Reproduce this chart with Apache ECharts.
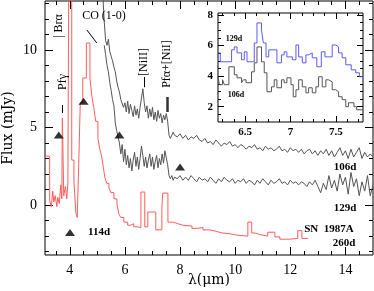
<!DOCTYPE html>
<html><head><meta charset="utf-8">
<script src="https://cdn.jsdelivr.net/npm/echarts@6/dist/echarts.min.js"></script>
<style>html,body{margin:0;padding:0;background:#fff}#c{width:374px;height:291px}</style>
</head><body><div id="c"></div>
<script>
// ---------- data ----------
// SN 1987A, 260d spectrum (step spectrum, red)
const lam260 = [3.10,3.27,3.33,3.38,3.42,3.47,3.53,3.56,3.62,3.67,3.71,3.73,3.78,3.84,3.89,3.93,3.96,4.07,4.15,4.22,4.27,4.33,4.38,4.47,4.60,4.73,4.80,4.87,4.94,5.02,5.09,5.16,5.22,5.27,5.34,5.42,5.49,5.60,5.71,5.78,5.85,5.96,6.10,6.21,6.32,6.43,6.58,6.72,6.83,7.12,7.34,7.37,7.56,7.74,7.92,8.10,8.43,8.64,8.83,9.08,9.33,9.52,9.80,10.10,10.46,10.60,10.71,10.89,11.18,11.44,11.62,11.98,12.27,12.42,12.64];
const flux260 = [3.15,0.3,-0.1,0.9,0.2,0.6,-0.1,0.5,0.1,1.3,0.4,5.6,0.6,1.2,0.4,1.4,14,2.9,1.5,-0.5,-0.8,3.1,6.6,8.2,10.45,8.2,7.0,6.3,5.4,4.3,3.6,3.1,2.4,1.8,1.4,1.1,0.8,0.4,0.1,-0.6,-0.8,-1.1,-1.3,-1.2,-1.4,-1.45,0.84,-1.4,-0.45,-1.6,-0.2,0.77,-1.1,-1.2,-1.3,-1.35,-1.5,-1.45,-1.6,-1.7,-1.8,-1.85,-1.95,-2.0,-1.1,-1.8,-1.9,-2.0,-1.75,-2.05,-2.2,-2.15,-1.65,-2.15,-2.15];

// 106d and 129d spectra (shared wavelength grid)
const lamIR = [5.20,5.25,5.30,5.35,5.40,5.45,5.50,5.55,5.60,5.65,5.70,5.75,5.80,5.85,5.90,5.95,6.00,6.05,6.10,6.15,6.20,6.25,6.30,6.35,6.40,6.45,6.50,6.55,6.60,6.65,6.70,6.75,6.80,6.85,6.90,6.95,7.00,7.05,7.10,7.15,7.20,7.25,7.30,7.35,7.40,7.45,7.50,7.55,7.60,7.65,7.70,7.75,7.80,
 7.9,8.0,8.1,8.2,8.3,8.4,8.5,8.6,8.7,8.8,8.9,9.0,9.1,9.2,9.3,9.4,9.5,9.6,9.7,9.8,9.9,10.0,10.1,10.2,10.3,10.4,10.5,10.6,10.7,10.8,10.9,11.0,11.1,11.2,11.3,11.4,11.5,11.6,11.7,11.8,11.9,12.0,12.1,12.2,12.3,12.4,12.5,12.6,12.7,12.8,12.9,13.0,13.1,13.2,13.3,13.4,13.5,13.6,13.7,13.8,13.9,14.0,14.1,14.2,14.3,14.4,14.5,14.6,14.7,14.8,14.9,15.0];
const flux106 = [13.5,11.8,10.6,10.3,10.7,9.9,9.6,9.3,8.9,8.6,8.0,7.6,7.3,6.8,6.9,6.3,6.6,6.0,6.7,5.9,6.5,6.1,5.7,6.4,5.8,6.2,5.6,6.3,6.9,7.5,6.6,6.0,6.4,5.6,6.2,5.7,6.3,5.5,6.0,5.4,6.1,5.6,5.9,5.3,5.8,5.5,5.9,5.4,4.5,4.3,4.4,4.7,4.5,
 4.4,4.6,4.3,4.5,4.2,4.4,4.3,4.5,4.2,4.1,
 4.3,4.0,4.1,3.9,4.2,4.0,3.8,4.0,3.9,4.1,
 3.8,3.9,3.7,3.9,3.8,3.6,3.8,3.7,3.9,3.6,
 3.7,3.5,3.8,3.6,3.7,3.5,3.6,3.8,3.5,3.6,
 3.4,3.7,3.5,3.6,3.4,3.6,3.3,3.5,3.6,3.3,
 3.5,3.2,3.5,3.3,3.6,3.2,3.5,3.1,3.4,3.7,
 3.2,3.5,3.0,3.6,3.1,3.4,3.7,3.0,3.4,3.1,
 3.3,3.1];
const flux129 = [null,10.3,9.7,9.0,8.6,7.9,7.4,6.8,6.4,5.3,4.8,4.4,4.0,3.3,3.9,2.8,3.6,2.6,3.2,2.4,3.0,2.2,2.9,3.4,2.5,3.1,2.3,3.0,3.8,3.2,2.5,3.1,2.4,2.9,3.3,2.5,3.1,2.3,2.8,3.2,2.4,3.0,2.6,3.3,2.7,3.5,3.4,2.6,1.9,1.7,1.9,1.6,1.8,
 1.7,1.9,1.6,1.8,1.6,1.9,1.7,1.5,1.8,1.6,
 1.7,1.5,1.8,1.6,1.4,1.7,1.5,1.8,1.6,1.5,
 1.7,1.4,1.6,1.5,1.7,1.4,1.6,1.5,1.3,1.6,
 1.4,1.7,1.5,1.3,1.6,1.4,1.5,1.7,1.4,1.5,
 1.3,1.6,1.4,1.5,1.3,1.5,1.4,1.2,1.5,1.3,
 1.6,1.2,0.8,1.4,1.0,1.9,1.1,1.6,0.9,2.0,
 1.3,1.8,0.7,2.1,1.2,1.7,0.6,1.5,0.9,1.9,
 0.6,1.3];

// 114d photometry (triangles)
const lam114 = [3.6,4.5,5.8,8.0];
const flux114 = [4.52,6.69,4.52,2.45];

// inset (6.2-7.8 micron) step spectra
const lamIn129 = [6.20,6.225,6.35,6.38,6.41,6.46,6.49,6.52,6.60,6.63,6.68,6.70,6.73,6.76,6.85,6.90,6.93,6.96,7.02,7.06,7.09,7.13,7.17,7.20,7.24,7.29,7.34,7.38,7.46,7.50,7.53,7.57,7.61,7.67,7.72,7.76,7.80];
const fluxIn129 = [5.52,4.94,5.72,5.91,5.52,5.07,5.59,4.94,6.17,7.48,7.02,6.17,5.26,5.72,4.87,5.39,5.59,5.26,5.07,6.04,5.26,4.87,5.39,5.52,5.20,4.61,5.59,5.26,6.04,5.91,5.52,5.20,4.74,4.41,4.22,3.96,3.96];
const lamIn106 = [6.20,6.215,6.25,6.27,6.32,6.38,6.41,6.46,6.48,6.51,6.57,6.60,6.63,6.68,6.71,6.74,6.79,6.82,6.85,6.90,6.93,6.96,7.005,7.03,7.06,7.09,7.13,7.17,7.20,7.24,7.28,7.31,7.35,7.39,7.42,7.46,7.50,7.53,7.57,7.61,7.64,7.70,7.73,7.80];
const fluxIn106 = [3.96,3.44,3.76,3.44,4.61,4.09,3.89,3.57,3.76,3.57,4.28,4.87,5.91,4.94,4.22,2.98,3.30,3.76,3.24,3.76,3.57,3.89,3.44,2.65,3.11,3.76,3.30,2.91,3.24,2.91,3.30,3.96,3.30,3.76,3.63,3.11,2.98,2.65,2.46,2.00,2.26,2.00,1.80,1.80];

// tick values
const xMajor = [4,6,8,10,12,14];
const xMinor = [3.5,4.5,5,5.5,6.5,7,7.5,8.5,9,9.5,10.5,11,11.5,12.5,13,13.5,14.5];
const yMajor = [0,5,10];
const yMinor = [-3,-2,-1,1,2,3,4,6,7,8,9,11,12,13];
const inXMajor = [6.5,7,7.5];
const inXMinor = [6.25,6.375,6.625,6.75,6.875,7.125,7.25,7.375,7.625,7.75];
const inYMajor = [2,4,6,8];
const inYMinor = [1.5,2.5,3,3.5,4.5,5,5.5,6.5,7,7.5];

// ---------- chart ----------
const zip = (a, b) => a.map((v, i) => [v, b[i]]);
const SERIF = '"Liberation Serif", "Times New Roman", serif';
const DSERIF = '"DejaVu Serif", serif';

function mkAxis(gi, pos, min, max, vals, len, label, extra) {
  return Object.assign({
    type: 'value', gridIndex: gi, position: pos, min: min, max: max,
    axisLine: { show: false, onZero: false }, splitLine: { show: false },
    axisTick: { show: true, inside: true, length: len, customValues: vals, lineStyle: { color: '#000', width: 1 } },
    axisLabel: label ? Object.assign({ show: true, customValues: vals, color: '#000' }, label) : { show: false }
  }, extra || {});
}
const XMIN = 3.1, XMAX = 15, YMIN = -3.22, YMAX = 13.16;
const IXMIN = 6.2, IXMAX = 7.8, IYMIN = 1.0, IYMAX = 8.13;
const mainLbl = { fontFamily: SERIF, fontSize: 14, margin: 8 };
const inLbl = { fontFamily: SERIF, fontSize: 11, fontWeight: 'bold', margin: 5 };

const xAxes = [
  mkAxis(0, 'bottom', XMIN, XMAX, xMajor, 8, mainLbl, {
    name: 'λ(μm)', nameLocation: 'middle', nameGap: 25, nameMoveOverlap: false,
    nameTextStyle: { fontFamily: DSERIF, fontSize: 14, color: '#000', verticalAlign: 'middle' }
  }),
  mkAxis(0, 'bottom', XMIN, XMAX, xMinor, 4, null),
  mkAxis(0, 'top', XMIN, XMAX, xMajor, 8, null),
  mkAxis(0, 'top', XMIN, XMAX, xMinor, 4, null),
  mkAxis(1, 'bottom', IXMIN, IXMAX, inXMajor, 6, inLbl),
  mkAxis(1, 'bottom', IXMIN, IXMAX, inXMinor, 3, null),
  mkAxis(1, 'top', IXMIN, IXMAX, inXMajor, 6, null),
  mkAxis(1, 'top', IXMIN, IXMAX, inXMinor, 3, null)
];
const yAxes = [
  mkAxis(0, 'left', YMIN, YMAX, yMajor, 8, mainLbl, {
    name: 'Flux (mJy)', nameLocation: 'middle', nameGap: 37, nameMoveOverlap: false,
    nameTextStyle: { fontFamily: DSERIF, fontSize: 14, color: '#000', verticalAlign: 'middle' }
  }),
  mkAxis(0, 'left', YMIN, YMAX, yMinor, 4, null),
  mkAxis(0, 'right', YMIN, YMAX, yMajor, 8, null),
  mkAxis(0, 'right', YMIN, YMAX, yMinor, 4, null),
  mkAxis(1, 'left', IYMIN, IYMAX, inYMajor, 6, inLbl),
  mkAxis(1, 'left', IYMIN, IYMAX, inYMinor, 3, null),
  mkAxis(1, 'right', IYMIN, IYMAX, inYMajor, 6, null),
  mkAxis(1, 'right', IYMIN, IYMAX, inYMinor, 3, null)
];

function txt(s, x, y, size, bold, rot) {
  return {
    type: 'text', x: x, y: y, rotation: rot ? Math.PI / 2 : 0, z: 100, silent: true,
    style: { text: s, fill: '#000', font: (bold ? 'bold ' : '') + size + 'px ' + SERIF, textAlign: 'center', textVerticalAlign: 'middle' }
  };
}

const option = {
  animation: false,
  backgroundColor: '#fff',
  grid: [
    { left: 45, top: 1, width: 328, height: 254, show: true, borderColor: '#000', borderWidth: 1, backgroundColor: 'transparent', containLabel: false, outerBoundsMode: 'none' },
    { left: 218, top: 13, width: 145, height: 109, show: true, borderColor: '#000', borderWidth: 1, backgroundColor: '#fff', containLabel: false, outerBoundsMode: 'none' }
  ],
  xAxis: xAxes,
  yAxis: yAxes,
  legend: {
    data: [{ name: '114d', icon: 'triangle' }],
    left: 60, top: 222, itemWidth: 10, itemHeight: 7, selectedMode: false,
    textStyle: { fontFamily: SERIF, fontWeight: 'bold', fontSize: 11, color: '#000', padding: [0, 0, 0, 8] }
  },
  series: [
    {
      name: '260d', type: 'line', xAxisIndex: 0, yAxisIndex: 0, step: 'end', showSymbol: false, symbol: 'none',
      data: zip(lam260, flux260), lineStyle: { color: '#ff5c5c', width: 1 }, itemStyle: { color: '#ff5c5c' }, clip: true, silent: true
    },
    {
      name: '106d', type: 'line', xAxisIndex: 0, yAxisIndex: 0, showSymbol: false, symbol: 'none',
      data: zip(lamIR, flux106), lineStyle: { color: '#555', width: 1 }, itemStyle: { color: '#555' }, clip: true, silent: true,
      markLine: {
        silent: true, symbol: ['none', 'none'], label: { show: false }, animation: false,
        lineStyle: { color: '#000', width: 1, type: 'solid' },
        data: [
          [{ coord: [3.74, 6.45] }, { coord: [3.74, 5.94] }],
          [{ coord: [6.69, 8.26] }, { coord: [6.69, 7.6] }],
          [{ coord: [7.55, 6.97], lineStyle: { width: 2.5, color: '#333' } }, { coord: [7.55, 6.0] }],
          [{ coord: [4.62, 11.29] }, { coord: [4.98, 10.45] }]
        ]
      }
    },
    {
      name: '129d', type: 'line', xAxisIndex: 0, yAxisIndex: 0, showSymbol: false, symbol: 'none',
      data: zip(lamIR, flux129), lineStyle: { color: '#555', width: 1 }, itemStyle: { color: '#555' }, clip: true, silent: true
    },
    {
      name: '114d', type: 'scatter', xAxisIndex: 0, yAxisIndex: 0, symbol: 'triangle', symbolSize: [10, 7],
      data: zip(lam114, flux114), itemStyle: { color: '#000' }, silent: true, z: 5
    },
    {
      name: 'inset 129d', type: 'line', xAxisIndex: 4, yAxisIndex: 4, step: 'end', showSymbol: false, symbol: 'none',
      data: zip(lamIn129, fluxIn129), lineStyle: { color: '#5a5aff', width: 1 }, clip: true, silent: true, z: 4
    },
    {
      name: 'inset 106d', type: 'line', xAxisIndex: 4, yAxisIndex: 4, step: 'end', showSymbol: false, symbol: 'none',
      data: zip(lamIn106, fluxIn106), lineStyle: { color: '#555', width: 1 }, clip: true, silent: true, z: 4
    }
  ],
  graphic: [
    txt('| Brα', 59, 26, 12, false, true),
    txt('Pfγ', 63, 82, 12, false, true),
    txt('CO (1-0)', 104, 16, 12, false, false),
    txt('[NiII]', 144, 62, 12, false, true),
    txt('Pfα+[NiI]', 167, 64, 12, false, true),
    txt('106d', 345, 167, 11, true, false),
    txt('129d', 345, 208, 11, true, false),
    txt('SN  1987A', 329, 229, 11, true, false),
    txt('260d', 344, 243, 11, true, false),
    txt('129d', 234, 39, 8, true, false),
    txt('106d', 236, 95, 8, true, false)
  ]
};
const chart = echarts.init(document.getElementById('c'), null, { renderer: 'canvas' });
chart.setOption(option);
</script>
</body></html>
